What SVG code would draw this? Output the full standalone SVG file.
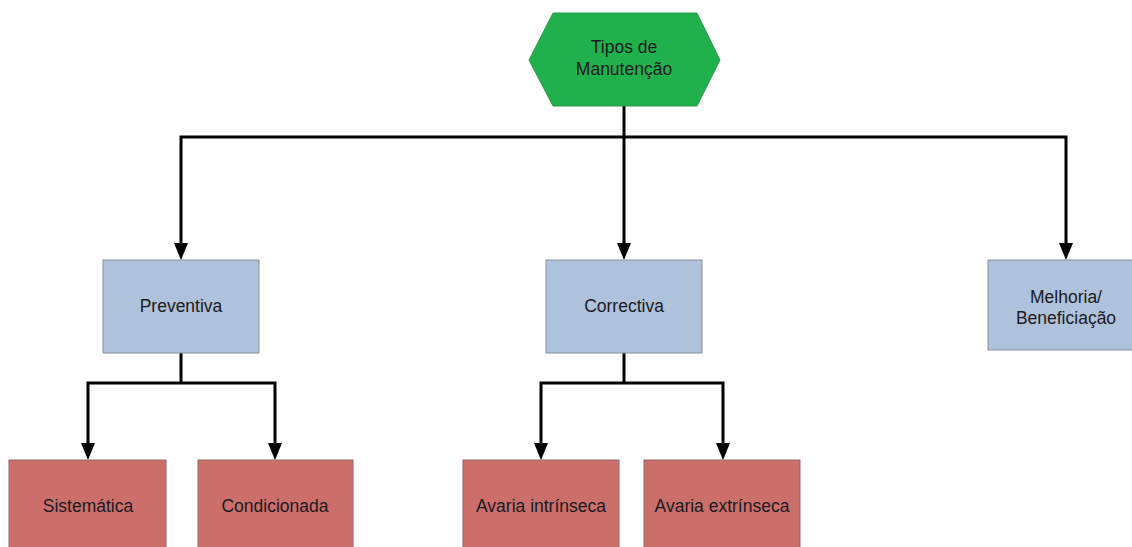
<svg xmlns="http://www.w3.org/2000/svg" width="1132" height="547" viewBox="0 0 1132 547">
<defs>
<style>
.lbl{font-family:"Liberation Sans",Arial,sans-serif;font-size:17.5px;fill:#1a1a22;text-anchor:middle}
.blue{fill:#afc2dc;stroke:#8a8f99;stroke-width:1}
.red{fill:#cc6f6a;stroke:#8f6a66;stroke-width:1}
.hex{fill:#21b14c;stroke:#2e9a4c;stroke-width:1}
.ln{fill:none;stroke:#000;stroke-width:3}
</style>
</defs>
<rect width="1132" height="547" fill="#fff"/>
<g id="connectors">
<path class="ln" d="M624,106 V137"/>
<path class="ln" d="M181,243 V137 H1066 V243"/>
<path class="ln" d="M624,137 V243"/>
<path d="M174,243 H188 L181,260 Z"/>
<path d="M617,243 H631 L624,260 Z"/>
<path d="M1059,243 H1073 L1066,260 Z"/>
<path class="ln" d="M181,353 V383"/>
<path class="ln" d="M88,443 V383 H275 V443"/>
<path d="M81,443 H95 L88,460 Z"/>
<path d="M268,443 H282 L275,460 Z"/>
<path class="ln" d="M624,353 V383"/>
<path class="ln" d="M541,443 V383 H723 V443"/>
<path d="M534,443 H548 L541,460 Z"/>
<path d="M716,443 H730 L723,460 Z"/>
</g>
<g id="tipos">
<polygon class="hex" points="553,13 697,13 720,60 697,106 553,106 529,60"/>
<text class="lbl" x="624" y="53">Tipos de</text>
<text class="lbl" x="624" y="75">Manutenção</text>
</g>
<g id="preventiva">
<rect class="blue" x="103" y="260" width="156" height="93"/>
<text class="lbl" x="181" y="312">Preventiva</text>
</g>
<g id="correctiva">
<rect class="blue" x="546" y="260" width="156" height="93"/>
<text class="lbl" x="624" y="312">Correctiva</text>
</g>
<g id="melhoria">
<rect class="blue" x="988" y="260" width="156" height="90"/>
<text class="lbl" x="1066" y="303">Melhoria/</text>
<text class="lbl" x="1066" y="324">Beneficiação</text>
</g>
<g id="sistematica">
<rect class="red" x="9" y="460" width="157" height="100"/>
<text class="lbl" x="88" y="512">Sistemática</text>
</g>
<g id="condicionada">
<rect class="red" x="198" y="460" width="155" height="100"/>
<text class="lbl" x="275" y="512">Condicionada</text>
</g>
<g id="avaria-intrinseca">
<rect class="red" x="463" y="460" width="156" height="100"/>
<text class="lbl" x="541" y="512">Avaria intrínseca</text>
</g>
<g id="avaria-extrinseca">
<rect class="red" x="644" y="460" width="156" height="100"/>
<text class="lbl" x="722" y="512">Avaria extrínseca</text>
</g>
</svg>
